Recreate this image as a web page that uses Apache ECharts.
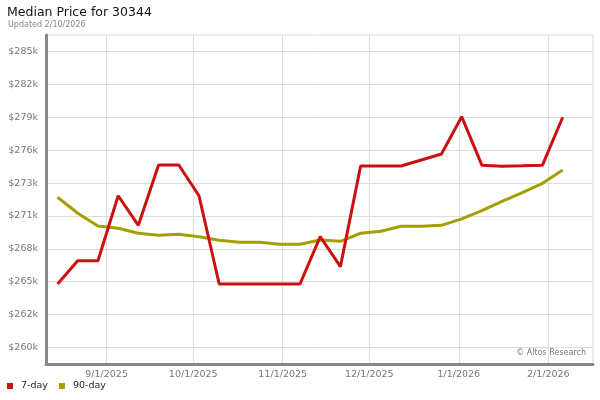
<!DOCTYPE html>
<html>
<head>
<meta charset="utf-8">
<script src="https://cdn.jsdelivr.net/npm/echarts@6/dist/echarts.min.js"></script>
<style>html,body{margin:0;padding:0;background:#fff}#c{width:600px;height:400px}</style>
</head>
<body>
<div id="c"></div>
<script>
var titleText = 'Median Price for 30344';
var subText = 'Updated 2/10/2026';
var creditText = '\u00a9 Altos Research';

var dates = ['2025-08-15','2025-08-22','2025-08-29','2025-09-05','2025-09-12','2025-09-19','2025-09-26',
  '2025-10-03','2025-10-10','2025-10-17','2025-10-24','2025-10-31','2025-11-07','2025-11-14',
  '2025-11-21','2025-11-28','2025-12-05','2025-12-12','2025-12-19','2025-12-26','2026-01-02',
  '2026-01-09','2026-01-16','2026-01-23','2026-01-30','2026-02-06'];

var sevenDay = [265360, 267330, 267330, 272820, 270320, 275420, 275420, 272820, 265360, 265360,
  265360, 265360, 265360, 269360, 266830, 275330, 275330, 275330, 275840, 276350,
  279500, 275400, 275310, 275350, 275400, 279450];

var ninetyDay = [272690, 271340, 270260, 270070, 269650, 269480, 269560, 269360, 269060, 268890,
  268890, 268720, 268720, 269080, 268970, 269650, 269820, 270240, 270250, 270320,
  270860, 271560, 272340, 273080, 273870, 274990];

var seriesNames = ['7-day', '90-day'];
var seriesColors = ['#cc1010', '#a49f00'];

var yTickValues = [260000, 262777.78, 265555.56, 268333.33, 271111.11, 273888.89, 276666.67, 279444.44, 282222.22, 285000];
var yTickLabels = ['$260k', '$262k', '$265k', '$268k', '$271k', '$273k', '$276k', '$279k', '$282k', '$285k'];

var xTickDates = ['2025-09-01', '2025-10-01', '2025-11-01', '2025-12-01', '2026-01-01', '2026-02-01'];
var xTickLabels = ['9/1/2025', '10/1/2025', '11/1/2025', '12/1/2025', '1/1/2026', '2/1/2026'];
var xMinDate = '2025-08-11T00:00:00Z';
var xMaxDate = '2026-02-16T12:00:00Z';

var FONT = 'DejaVu Sans';

function ms(s) { return Date.parse(s.length === 10 ? s + 'T00:00:00Z' : s); }
function pairs(vals) { return dates.map(function (d, i) { return [ms(d), vals[i]]; }); }
function nearestLabel(v, vals, labels) {
  var best = 0, bd = Infinity;
  for (var i = 0; i < vals.length; i++) {
    var d = Math.abs(vals[i] - v);
    if (d < bd) { bd = d; best = i; }
  }
  return labels[best];
}
var xTickValues = xTickDates.map(ms);

var chart = echarts.init(document.getElementById('c'), null, { renderer: 'canvas' });
chart.setOption({
  animation: false,
  backgroundColor: '#fff',
  title: [
    { text: titleText, left: 7, top: 6, padding: 0,
      textStyle: { fontFamily: FONT, fontSize: 12.5, fontWeight: 'normal', color: '#111' } },
    { text: subText, left: 8, top: 21, padding: 0,
      textStyle: { fontFamily: FONT, fontSize: 8, fontWeight: 'normal', color: '#888' } }
  ],
  legend: {
    data: seriesNames,
    left: 7, top: 381, padding: 0,
    icon: 'rect', itemWidth: 6, itemHeight: 6, itemGap: 11,
    textStyle: { fontFamily: FONT, fontSize: 9.5, color: '#222', padding: [0, 0, 0, 3] }
  },
  grid: {
    left: 46, right: 7, top: 35, bottom: 35.5,
    show: true, borderColor: '#dddddd', borderWidth: 1, backgroundColor: '#fff'
  },
  xAxis: {
    type: 'value',
    min: ms(xMinDate), max: ms(xMaxDate),
    axisLine: { show: true, onZero: false, lineStyle: { color: '#888', width: 3 } },
    axisTick: { show: false, customValues: xTickValues },
    splitLine: { show: true, lineStyle: { color: '#dddddd', width: 1 } },
    axisLabel: {
      customValues: xTickValues,
      margin: 5,
      fontFamily: FONT, fontSize: 9.5, color: '#777',
      formatter: function (v) { return nearestLabel(v, xTickValues, xTickLabels); }
    }
  },
  yAxis: {
    type: 'value',
    min: 258560, max: 286400,
    axisLine: { show: true, onZero: false, lineStyle: { color: '#888', width: 3 } },
    axisTick: { show: false, customValues: yTickValues },
    splitLine: { show: true, lineStyle: { color: '#dddddd', width: 1 } },
    axisLabel: {
      customValues: yTickValues,
      margin: 8,
      fontFamily: FONT, fontSize: 9.5, color: '#777',
      formatter: function (v) { return nearestLabel(v, yTickValues, yTickLabels); }
    }
  },
  graphic: [
    { type: 'text', right: 14, top: 349,
      style: { text: creditText, font: '8px "DejaVu Sans"', fill: '#777' } }
  ],
  series: [
    { name: seriesNames[0], type: 'line', data: pairs(sevenDay), symbol: 'none', z: 4,
      itemStyle: { color: seriesColors[0] }, lineStyle: { color: seriesColors[0], width: 3 } },
    { name: seriesNames[1], type: 'line', data: pairs(ninetyDay), symbol: 'none', z: 3,
      itemStyle: { color: seriesColors[1] }, lineStyle: { color: seriesColors[1], width: 3 } }
  ]
});
</script>
</body>
</html>
